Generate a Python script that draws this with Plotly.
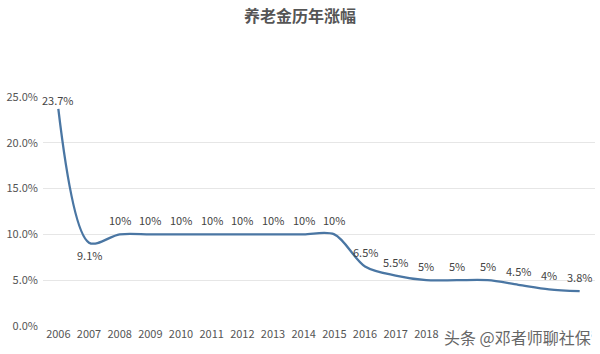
import plotly.graph_objects as go

years = [str(y) for y in range(2006, 2024)]
values = [23.7, 9.1, 10, 10, 10, 10, 10, 10, 10, 10, 6.5, 5.5, 5, 5, 5, 4.5, 4, 3.8]
labels = ["23.7%", "9.1%", "10%", "10%", "10%", "10%", "10%", "10%", "10%", "10%",
          "6.5%", "5.5%", "5%", "5%", "5%", "4.5%", "4%", "3.8%"]
label_above = [True, False] + [True] * 16
y_ticks = [0, 5, 10, 15, 20, 25]
y_tick_text = ["0.0%", "5.0%", "10.0%", "15.0%", "20.0%", "25.0%"]

font_family = "Noto Sans CJK SC, Noto Sans, sans-serif"

fig = go.Figure()
fig.add_trace(go.Scatter(
    x=years, y=values, mode="lines",
    line=dict(color="#4a76a3", width=2.3, shape="spline", smoothing=0.9),
    cliponaxis=False, hoverinfo="skip", showlegend=False,
))

for i, (v, lab, up) in enumerate(zip(values, labels, label_above)):
    shift = 14 if up else -12
    if i == 0:
        shift = 9
    fig.add_annotation(x=i, y=v, xref="x", yref="y", text=lab, showarrow=False,
                       yshift=shift, xanchor="center", yanchor="middle",
                       font=dict(size=11, color="#444444", family=font_family))

fig.update_layout(
    width=600, height=354,
    margin=dict(l=43, r=5, t=97, b=28),
    paper_bgcolor="white", plot_bgcolor="white",
    title=dict(text="<b>养老金历年涨幅</b>", x=0.5, xanchor="center", y=0.955, yanchor="middle",
               font=dict(size=16, color="#555555", family=font_family)),
    font=dict(family=font_family, size=11, color="#555555"),
    xaxis=dict(type="category", range=[-0.5, 17.5], showgrid=False, showline=False,
               ticks="", tickfont=dict(size=11, color="#555555"), zeroline=False),
    yaxis=dict(range=[0, 25], tickvals=y_ticks, ticktext=y_tick_text,
               showgrid=True, gridcolor="#e6e6e6", gridwidth=1, zeroline=False,
               showline=False, ticks="", ticklabelstandoff=4,
               tickfont=dict(size=11, color="#555555")),
)

fig.add_annotation(text="头条 @邓者师聊社保", xref="paper", yref="paper",
                   x=0.995, y=-0.048, xanchor="right", yanchor="middle",
                   showarrow=False, bgcolor="white", borderpad=0,
                   font=dict(size=16, color="#666666", family=font_family))

fig.write_html("out.html")
